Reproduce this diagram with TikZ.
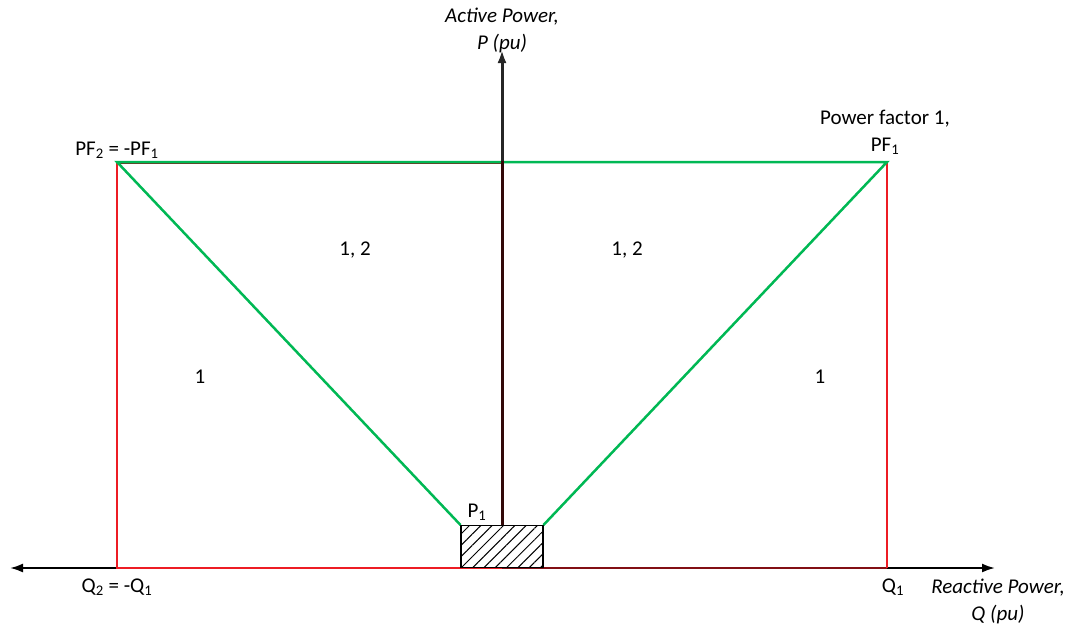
\documentclass[tikz,border=0pt]{standalone}
\usepackage{fontspec}
\setmainfont{Carlito}
\usepackage{xcolor}
\usetikzlibrary{arrows.meta, positioning, patterns.meta}
\definecolor{pfgreen}{RGB}{0, 184, 84}
\definecolor{limred}{RGB}{237, 28, 36}
\definecolor{axisdark}{RGB}{50, 8, 8}
\tikzset{
    axis/.style={line width=2pt, >={Latex[length=13pt, width=9pt]}},
    limit/.style={draw=limred, line width=2.5pt},
    pfline/.style={draw=pfgreen, line width=2.5pt},
    lbl/.style={font=\fontsize{21}{27}\selectfont, inner sep=1pt},
    axlbl/.style={lbl, font=\fontsize{21}{27}\selectfont\itshape, align=center},
    region/.style={rectangle, draw=black, line width=1.5pt, pattern={Lines[angle=45, distance=8pt, line width=1pt]}, minimum width=82pt, minimum height=42pt, inner sep=0pt}
}

\begin{document}
\begin{tikzpicture}[x=1pt, y=-1pt]
    \useasboundingbox (0,0) rectangle (1069,633);

    % corner points of the capability area
    \coordinate (O) at (502,568);
    \coordinate (Qneg) at (117,568);
    \coordinate (Qpos) at (887,568);
    \coordinate (PFneg) at (117,162);
    \coordinate (PFpos) at (887,162);
    \coordinate (Ptop) at (502,162);
    \coordinate (xleft) at (10,568);
    \coordinate (xright) at (995,568);
    \coordinate (ytop) at (502,50);

    % axes
    \draw [axis, <->] (xleft) -- (xright);

    % limits
    \draw [draw=limred!55!black, line width=1.5pt] (O) -- (Qpos);
    \draw [draw=limred, line width=1.3pt] (Qpos) -- (PFpos);
    \draw [limit] (O) -- (Qneg) -- (PFneg);
    \draw [draw=limred!60!black, line width=2pt] ([yshift=-1pt]PFneg) -- ([yshift=-1pt]Ptop);

    \node (pone) [region, anchor=south] at (O) {};
    \draw [pfline] (pone.north west) -- (PFneg) -- (PFpos) -- (pone.north east);
    \draw [axis, ->, draw=black!85, line width=3pt] (pone.north) -- (ytop);
    \draw [draw=axisdark, line width=3pt] (pone.north) -- ([yshift=1pt]Ptop);

    % labels
    \node (ylbl) [axlbl, anchor=south] at (502,54) {Active Power,\\P (pu)};
    \node (xlbl) [axlbl, anchor=north] at (998,578) {Reactive Power,\\Q (pu)};
    \node (pfneglbl) [lbl, above=2pt of PFneg] {PF\textsubscript{2} = -PF\textsubscript{1}};
    \node (pfposlbl) [lbl, anchor=south, align=center] at (885,156) {Power factor 1,\\PF\textsubscript{1}};
    \node (qneglbl) [lbl, below=10pt of Qneg] {Q\textsubscript{2} = -Q\textsubscript{1}};
    \node (qposlbl) [lbl, below=10pt of Qpos, xshift=6pt] {Q\textsubscript{1}};
    \node (ponelbl) [lbl] at (477,512) {P\textsubscript{1}};
    \node (zoneA) [lbl] at (355,250) {1, 2};
    \node (zoneB) [lbl] at (627,250) {1, 2};
    \node (zoneC) [lbl] at (200,377) {1};
    \node (zoneD) [lbl] at (820,377) {1};
\end{tikzpicture}
\end{document}
